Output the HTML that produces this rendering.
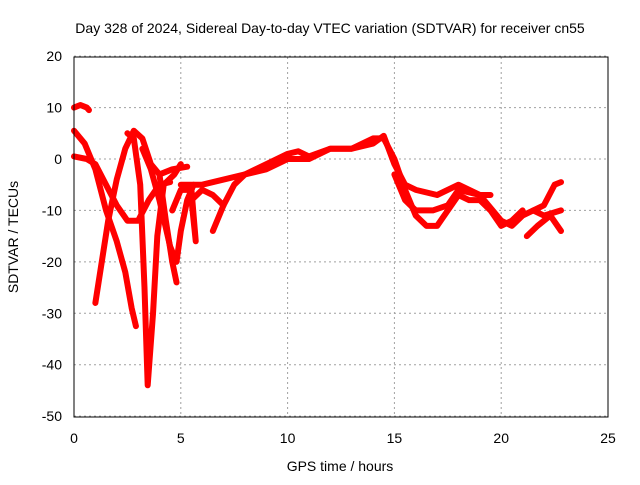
<!DOCTYPE html>
<html><head><meta charset="utf-8"><style>
body{margin:0;background:#fff;font-family:"Liberation Sans",sans-serif}
svg text{font-family:"Liberation Sans",sans-serif;font-size:14px;fill:#000}
</style></head><body>
<svg id="chart" width="640" height="480">
<text x="330" y="33" text-anchor="middle">Day 328 of 2024, Sidereal Day-to-day VTEC variation (SDTVAR) for receiver cn55</text>
<g id="grid"></g>
<g id="ticks"></g>
<g id="series"></g>
<rect x="74" y="57" width="534" height="360" fill="none" stroke="#000"/>
<text x="340" y="471" text-anchor="middle">GPS time / hours</text>
<text transform="translate(18,237) rotate(-90)" text-anchor="middle">SDTVAR / TECUs</text>
</svg>
<script>
const xTicks=[0,5,10,15,20,25];
const yTicks=[20,10,0,-10,-20,-30,-40,-50];
const trackTop=[[0,10],[0.3,10.5],[0.6,10],[0.7,9.5]];
const trackA=[[0,5.5],[0.5,3],[1,-2],[1.5,-10],[2,-16],[2.4,-22],[2.7,-29],[2.9,-32.5]];
const trackB=[[1,-28],[1.3,-20],[1.6,-12],[2,-4],[2.4,2],[2.8,5.5],[3.2,4],[3.6,-1],[4,-3],[4.6,-2],[5.3,-1.5]];
const trackC=[[2.5,5],[2.8,4],[3.1,-5],[3.3,-25],[3.45,-44],[3.7,-30],[3.9,-15],[4.2,-5],[4.7,-3],[5.0,-1]];
const trackD=[[0,0.5],[0.6,0],[1.0,-1],[1.5,-5],[2,-9],[2.5,-12],[3,-12],[3.5,-8],[4,-5],[4.5,-4.5]];
const trackE=[[3.2,2],[3.6,-2],[4,-8],[4.5,-17],[4.8,-20],[5,-14],[5.3,-8],[5.6,-5]];
const trackF=[[4,-3],[4.3,-12],[4.6,-20],[4.8,-24]];
const trackG=[[4.6,-10],[5,-6],[5.5,-6],[5.7,-16],[5.5,-8],[6,-6],[6.5,-7],[7,-9]];
const trackH=[[5,-5],[6,-5],[7,-4],[8,-3],[9,-1],[10,1],[10.5,1.5],[11,0.5],[12,2],[13,2],[14,3],[14.5,4.5],[15,-1],[15.5,-5],[16,-6],[17,-7],[18,-5],[19,-7],[20,-12],[20.5,-13],[21,-11],[22,-9],[22.5,-5],[22.8,-4.5]];
const trackI=[[6.5,-14],[7,-9],[7.5,-5],[8,-3],[9,-2],[10,0],[11,0],[12,2],[13,2],[14,4],[14.5,4],[15,0],[15.5,-6],[16,-11],[16.5,-13],[17,-13],[17.5,-10],[18,-7],[18.5,-8],[19,-8],[19.5,-10],[20,-13],[20.5,-12],[21,-10]];
const trackJ=[[15,-3],[15.5,-8],[16,-10],[16.8,-10],[17.5,-9],[18,-6],[19,-7],[19.5,-7]];
const trackK=[[21.2,-15],[21.7,-13],[22.3,-11],[22.8,-14]];
const trackL=[[21.5,-10],[22,-11],[22.8,-10]];
const tracks=[trackTop,trackA,trackB,trackC,trackD,trackE,trackF,trackG,trackH,trackI,trackJ,trackK,trackL];
const NS="http://www.w3.org/2000/svg";
const X=v=>74+v*(534/25), Y=v=>159-v*(360/70);
const grid=document.getElementById('grid'),ticks=document.getElementById('ticks'),ser=document.getElementById('series');
function mk(t,a,p){const e=document.createElementNS(NS,t);for(const k in a)e.setAttribute(k,a[k]);p.appendChild(e);return e;}
xTicks.forEach(v=>{
 const l=mk('line',{x1:X(v),x2:X(v),y1:57,y2:417,stroke:'#a0a0a0','stroke-dasharray':'2,3'},grid);
 
 
 const t=mk('text',{x:X(v),y:443,'text-anchor':'middle'},ticks);t.textContent=v;
 
 
});
yTicks.forEach(v=>{
 const l=mk('line',{x1:74,x2:608,y1:Y(v),y2:Y(v),stroke:'#a0a0a0','stroke-dasharray':'2,3'},grid);
 
 
 const t=mk('text',{x:62,y:Y(v)+5,'text-anchor':'end'},ticks);t.textContent=v;
 
 
});
tracks.forEach(tr=>{
 const p=mk('polyline',{points:tr.map(d=>X(d[0])+','+Y(d[1])).join(' '),fill:'none',stroke:'#f00','stroke-width':6,'stroke-linejoin':'round','stroke-linecap':'round'},ser);
 
 
});
</script>
</body></html>
